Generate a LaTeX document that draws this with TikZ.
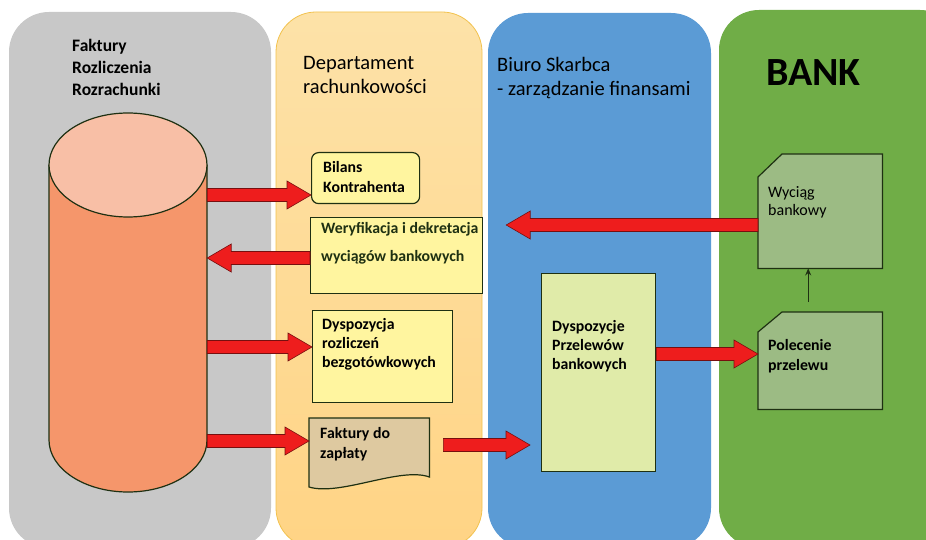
\documentclass[tikz,border=0pt]{standalone}
\usepackage{fontspec}
\setmainfont{Carlito}
\usetikzlibrary{positioning,calc,arrows.meta}

\definecolor{lanegray}{HTML}{C8C8C8}
\definecolor{laneorange}{HTML}{FFD485}
\definecolor{laneorangetop}{HTML}{FDE2A8}
\definecolor{laneedge}{HTML}{F2C24E}
\definecolor{laneblue}{HTML}{5B9BD5}
\definecolor{lanegreen}{HTML}{70AD47}
\definecolor{cyltop}{HTML}{F8BFA6}
\definecolor{cylbody}{HTML}{F5966B}
\definecolor{boxyellow}{HTML}{FFF59F}
\definecolor{boxtan}{HTML}{DEC9A0}
\definecolor{boxlime}{HTML}{E0EBA9}
\definecolor{boxbank}{HTML}{9CBB84}
\definecolor{arrowred}{HTML}{EE1D1D}
\definecolor{edge}{HTML}{1E3012}

\newcommand{\redarrow}[2]{%
  \draw[fatarrow] let \p1=#1, \p2=#2, \n1={ifthenelse(\x2>\x1,24,-24)} in
    (\x1,\y1+6.5pt) -- (\x2-\n1*1pt,\y1+6.5pt) -- (\x2-\n1*1pt,\y1+14pt)
    -- (\x2,\y1) -- (\x2-\n1*1pt,\y1-14pt) -- (\x2-\n1*1pt,\y1-6.5pt)
    -- (\x1,\y1-6.5pt) -- cycle;}

\begin{document}
\begin{tikzpicture}[x=1pt,y=-1pt,
  lane/.style={rounded corners=40pt},
  box/.style={draw=edge,line width=1.2pt,inner sep=0,anchor=north west},
  txt/.style={inner sep=0,anchor=base west,align=left,
    font=\fontsize{15.8}{20}\selectfont\bfseries},
  hd/.style={inner sep=0,anchor=base west,align=left,
    font=\fontsize{20.5}{24}\selectfont},
  fatarrow/.style={fill=arrowred,draw=arrowred!50!black,line width=0.6pt},
  bank/.style={fill=boxbank,draw=edge,line width=1.2pt}]
  \useasboundingbox (0,0) rectangle (926,540);
  \clip (0,0) rectangle (926,540);

  % lanes
  \fill[lane,lanegray] (9,12) rectangle (271,548);
  \shade[lane,top color=laneorangetop,bottom color=laneorange]
    (276,12) rectangle (482,548);
  \draw[lane,laneedge,line width=0.8pt] (276,12) rectangle (482,548);
  \fill[lane,laneblue] (488,13) rectangle (711,548);
  \fill[lane,lanegreen] (719,10) rectangle (960,548);

  % (multi-line texts are placed at the baseline of their last line)
  \node[inner sep=0,anchor=base west,align=left,
    font=\fontsize{17.5}{22}\selectfont\bfseries] (faktury) at (72,96)
    {Faktury\\Rozliczenia\\Rozrachunki};
  \node[hd] (dept) at (303,94) {Departament\\rachunkowości};
  \node[hd] (biuro) at (497,96) {Biuro Skarbca\\- zarządzanie finansami};
  \node[inner sep=0,anchor=base west,font=\fontsize{40}{42}\selectfont\bfseries]
    (bank) at (766,86) {BANK};

  % cylinder
  \node[inner sep=0,minimum width=158,minimum height=379] (db) at (128,302.5) {};
  \fill[cylbody] (49,165) -- (49,440)
    arc[start angle=180,end angle=360,x radius=79pt,y radius=52pt]
    -- (207,165) -- cycle;
  \draw[edge,line width=1.2pt] (49,165) -- (49,440)
    arc[start angle=180,end angle=360,x radius=79pt,y radius=52pt]
    -- (207,165);
  \filldraw[fill=cyltop,draw=edge,line width=1.2pt]
    (128,165) ellipse [x radius=79pt,y radius=52pt];

  % boxes
  \node[box,fill=boxyellow,rounded corners=7pt,minimum width=108,
    minimum height=51] (bil) at (311,152) {};
  \node[box,fill=boxyellow,minimum width=172,minimum height=76] (wer) at (310,217) {};
  \node[box,fill=boxyellow,minimum width=140,minimum height=92] (dro) at (312,310) {};
  \node[inner sep=0,anchor=north west,minimum width=120,minimum height=64]
    (fak) at (309,418) {};
  \filldraw[fill=boxtan,draw=edge,line width=1.2pt]
    (fak.north west) -- (fak.north east) -- ($(fak.north east)+(0,59)$)
    .. controls ($(fak.south)+(31,-16)$) and ($(fak.south)+(-29,14)$)
    .. ($(fak.north west)+(0,69)$) -- cycle;
  \node[box,fill=boxlime,minimum width=114,minimum height=198] (prz) at (541,273) {};
  \node[inner sep=0,anchor=north west,minimum width=124,minimum height=114]
    (wyc) at (758,154) {};
  \filldraw[bank] ($(wyc.north west)+(0,23)$) -- ($(wyc.north west)+(24,0)$)
    -- (wyc.north east) -- (wyc.south east) -- (wyc.south west) -- cycle;
  \node[inner sep=0,anchor=north west,minimum width=124,minimum height=97]
    (pol) at (758,312) {};
  \filldraw[bank] ($(pol.north west)+(0,20)$) -- ($(pol.north west)+(24,0)$)
    -- (pol.north east) -- (pol.south east) -- (pol.south west) -- cycle;

  \node[txt] (bil-t) at (323,193) {Bilans\\Kontrahenta};
  \node[txt,text=edge,font=\fontsize{15.8}{28}\selectfont\bfseries]
    (wer-t) at (321,261) {Weryfikacja i dekretacja\\wyciągów bankowych};
  \node[txt,font=\fontsize{15.8}{19}\selectfont\bfseries]
    (dro-t) at (322,367) {Dyspozycja\\rozliczeń\\bezgotówkowych};
  \node[txt] (fak-t) at (320,458) {Faktury do\\zapłaty};
  \node[txt,font=\fontsize{15.8}{19}\selectfont\bfseries]
    (prz-t) at (552,369) {Dyspozycje\\Przelewów\\bankowych};
  \node[txt,font=\fontsize{16}{18}\selectfont] (wyc-t) at (768,215) {Wyciąg\\bankowy};
  \node[txt] (pol-t) at (768,370) {Polecenie\\przelewu};

  % arrows
  \coordinate (r1) at (0,195);
  \coordinate (r2) at (0,258);
  \coordinate (r3) at (0,347);
  \coordinate (r4) at (0,441);
  \coordinate (r5) at (0,445);
  \coordinate (r6) at (0,354);
  \coordinate (r7) at (0,225);
  \redarrow{(db.east |- r1)}{(bil.west |- r1)}
  \redarrow{(wer.west |- r2)}{(db.east |- r2)}
  \redarrow{(db.east |- r3)}{(dro.west |- r3)}
  \redarrow{(db.east |- r4)}{(fak.west |- r4)}
  \redarrow{($(fak.east |- r5)+(14,0)$)}{($(prz.west |- r5)+(-11,0)$)}
  \redarrow{(prz.east |- r6)}{(pol.west |- r6)}
  \redarrow{(wyc.west |- r7)}{($(wer.east |- r7)+(23,0)$)}

  \coordinate (up) at ($(pol.north)+(-12,-10)$);
  \draw[-{Stealth[length=7pt,width=6pt]},edge,line width=1.4pt] (up) -- (up |- wyc.south);
\end{tikzpicture}
\end{document}
